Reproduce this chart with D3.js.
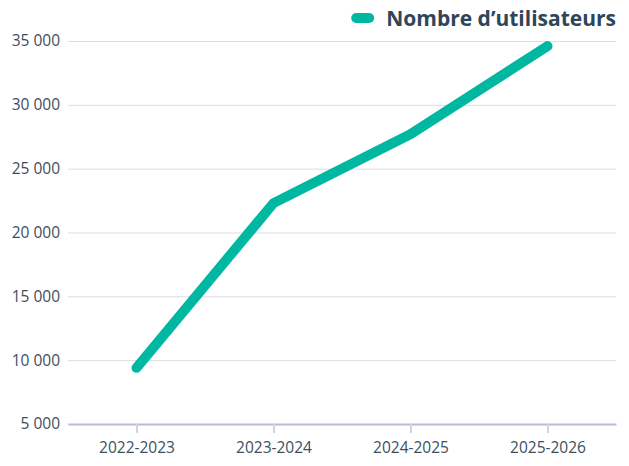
<!DOCTYPE html>
<html>
<head>
<meta charset="utf-8">
<script src="https://cdn.jsdelivr.net/npm/d3@7"></script>
<style>
  body { margin: 0; background: #fff; }
  text { font-family: "Open Sans", sans-serif; }
</style>
</head>
<body>
<div id="chart"></div>
<script>
const width = 629;
const height = 466;
const margin = {top: 41, right: 13, bottom: 42, left: 68};

const seasons = ['2022-2023', '2023-2024', '2024-2025', '2025-2026'];
const users = [9400, 22300, 27700, 34600];
const yTicks = [5000, 10000, 15000, 20000, 25000, 30000, 35000];
const seriesName = 'Nombre d\u2019utilisateurs';

const data = seasons.map((s, i) => ({season: s, value: users[i]}));

let svg = d3.select('#chart')
    .append('svg')
    .attr('width', width)
    .attr('height', height);

let x = d3.scalePoint()
    .domain(seasons)
    .range([margin.left, width - margin.right])
    .padding(0.5);

let y = d3.scaleLinear()
    .domain([5000, 35000])
    .range([height - margin.bottom, margin.top]);

const fmt = v => d3.format(',')(v).replace(/,/g, ' ');

// grid lines + y labels
let yAxis = svg.append('g')
    .attr('transform', `translate(${margin.left},0)`)
    .call(d3.axisLeft(y).tickValues(yTicks).tickSize(-(width - margin.left - margin.right)).tickFormat(fmt).tickPadding(8));
yAxis.select('.domain').remove();
yAxis.selectAll('.tick line').attr('stroke', '#d9dce9').attr('stroke-width', 1);
yAxis.selectAll('.tick text')
    .attr('fill', '#3d4f5e')
    .style('font-size', '15.5px');

// x axis
let xAxis = svg.append('g')
    .attr('transform', `translate(0,${height - margin.bottom})`)
    .call(d3.axisBottom(x).tickSize(9).tickPadding(9).tickSizeOuter(0));
xAxis.select('.domain').attr('stroke', '#b8bdd6').attr('stroke-width', 2);
xAxis.selectAll('.tick line').attr('stroke', '#d0d3e3').attr('stroke-width', 2);
xAxis.selectAll('.tick text')
    .attr('fill', '#3d4f5e')
    .style('font-size', '15.5px');

// line
let line = d3.line()
    .x(d => x(d.season))
    .y(d => y(d.value));

svg.append('path')
    .datum(data)
    .attr('d', line)
    .attr('fill', 'none')
    .attr('stroke', '#00b8a2')
    .attr('stroke-width', 10)
    .attr('stroke-linecap', 'round')
    .attr('stroke-linejoin', 'miter');

// legend
let legend = svg.append('g').attr('transform', 'translate(616,18)');
let legText = legend.append('text')
    .attr('text-anchor', 'end')
    .attr('y', 7.5)
    .attr('fill', '#2e4657')
    .style('font-size', '21px')
    .style('font-weight', 'bold')
    .text(seriesName);
let tw = legText.node().getComputedTextLength();
legend.append('line')
    .attr('x1', -tw - 30)
    .attr('x2', -tw - 17)
    .attr('y1', 0)
    .attr('y2', 0)
    .attr('stroke', '#00b8a2')
    .attr('stroke-width', 10)
    .attr('stroke-linecap', 'round');
</script>
</body>
</html>
